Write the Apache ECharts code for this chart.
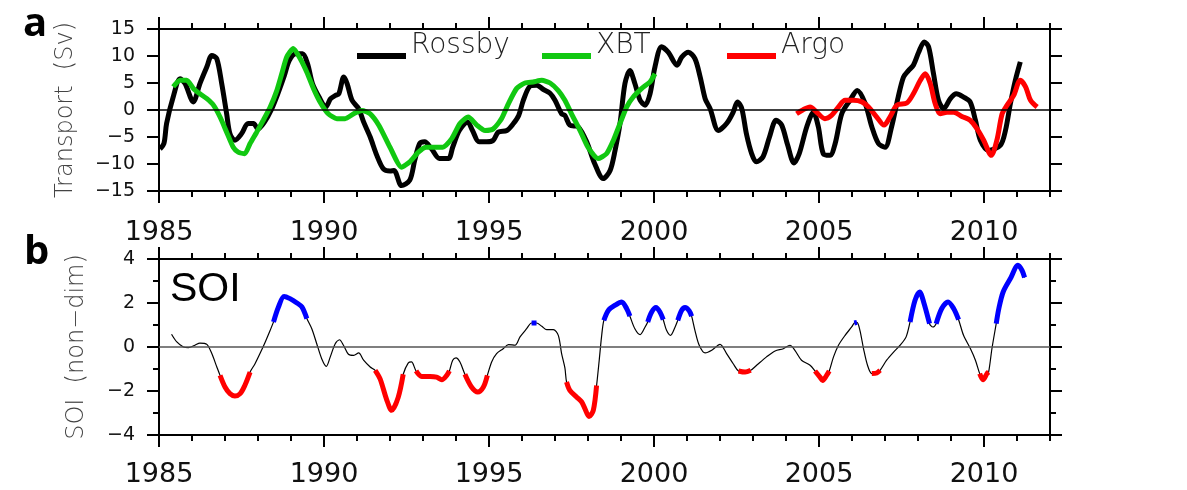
<!DOCTYPE html>
<html>
<head>
<meta charset="utf-8">
<script src="https://cdn.jsdelivr.net/npm/echarts@6/dist/echarts.min.js"></script>
<style>
html,body{margin:0;padding:0;background:#fff;}
#chart{width:1187px;height:490px;}
</style>
</head>
<body>
<div id="chart"></div>
<script>
// ---------- data (year, value) ----------
const xTickYears = [1985, 1990, 1995, 2000, 2005, 2010];
const xMin = 1985, xMax = 2012;

const rossby = [[1985.03,-7.2],[1985.15,-6.2],[1985.23,-2.5],[1985.43,2.4],[1985.64,5.8],[1985.79,4.9],[1986.04,1.5],[1986.24,4.9],[1986.45,8],[1986.6,10.1],[1986.75,9.5],[1986.9,4.9],[1987.05,-0.7],[1987.15,-4.4],[1987.3,-5.6],[1987.5,-4.4],[1987.7,-2.5],[1987.86,-2.5],[1988.0,-3.5],[1988.2,-2.2],[1988.4,0],[1988.6,3],[1988.8,6.4],[1988.95,9.2],[1989.15,10.4],[1989.35,10.4],[1989.5,8.6],[1989.65,4.9],[1989.85,2.4],[1990.05,0.55],[1990.2,2.1],[1990.35,2.7],[1990.45,3],[1990.6,6.1],[1990.7,4.9],[1990.85,1.8],[1991.05,0.25],[1991.2,-2.2],[1991.4,-5],[1991.6,-8.4],[1991.8,-10.9],[1992.0,-11.3],[1992.12,-11.2],[1992.35,-14],[1992.6,-13],[1992.75,-9.3],[1992.9,-6.2],[1993.05,-5.9],[1993.26,-7.2],[1993.5,-9],[1993.77,-9],[1993.9,-6.9],[1994.1,-3.8],[1994.35,-2.2],[1994.5,-3.8],[1994.7,-5.9],[1994.93,-5.9],[1995.13,-5.6],[1995.28,-4.1],[1995.54,-3.8],[1995.74,-2.5],[1995.9,-1],[1996.04,1.8],[1996.24,4.4],[1996.44,4.6],[1996.65,3.8],[1996.85,3.1],[1997.0,1.8],[1997.2,-0.7],[1997.3,-1],[1997.45,-2.8],[1997.7,-3.1],[1997.96,-5.9],[1998.2,-9.9],[1998.46,-12.7],[1998.67,-11.2],[1998.82,-7.5],[1998.97,-2.5],[1999.12,4.9],[1999.27,7.3],[1999.42,4.9],[1999.58,1.8],[1999.73,0.9],[1999.88,3],[2000.03,8],[2000.23,11.7],[2000.43,10.7],[2000.7,8.3],[2000.84,9.8],[2001.04,10.7],[2001.24,9.5],[2001.4,6.1],[2001.55,2.1],[2001.7,0.25],[2001.95,-3.8],[2002.2,-2.5],[2002.4,-0.4],[2002.53,1.5],[2002.66,0.25],[2002.8,-4.4],[2002.96,-8.1],[2003.1,-9.6],[2003.3,-8.7],[2003.5,-5],[2003.7,-1.9],[2003.87,-2.8],[2004.05,-6.5],[2004.24,-9.8],[2004.4,-8.1],[2004.63,-3.1],[2004.83,-0.4],[2004.98,-3.1],[2005.13,-8.1],[2005.33,-8.4],[2005.49,-6.2],[2005.69,-0.7],[2005.94,1.8],[2006.16,3.6],[2006.4,1.2],[2006.6,-3.1],[2006.8,-6.2],[2007.0,-6.9],[2007.2,-3.1],[2007.4,2.4],[2007.56,6.1],[2007.71,7.3],[2007.86,8.3],[2008.02,10.7],[2008.19,12.6],[2008.32,11.7],[2008.47,6.7],[2008.62,1.8],[2008.78,0.25],[2008.98,2.1],[2009.16,3],[2009.38,2.4],[2009.58,1.5],[2009.74,-1.9],[2009.89,-5.6],[2010.14,-7.5],[2010.5,-6.5],[2010.65,-3.8],[2010.8,1.2],[2010.95,5.5],[2011.1,8.9]];

const xbt = [[1985.43,4.3],[1985.64,5.5],[1985.84,5.5],[1986.04,4],[1986.24,3],[1986.45,2.1],[1986.65,0.9],[1986.85,-1.3],[1987.05,-4.1],[1987.25,-6.9],[1987.4,-7.8],[1987.6,-8.1],[1987.76,-6.2],[1987.96,-4.1],[1988.16,-1.9],[1988.37,0.55],[1988.57,3.6],[1988.72,6.7],[1988.87,9.8],[1989.07,11.4],[1989.28,9.5],[1989.48,7],[1989.68,4],[1989.88,1.5],[1990.13,-0.7],[1990.39,-1.6],[1990.64,-1.6],[1990.9,-0.7],[1991.15,-0.1],[1991.4,-0.7],[1991.67,-2.9],[1992.0,-6.9],[1992.35,-10.6],[1992.6,-9.6],[1992.86,-7.8],[1993.1,-6.9],[1993.6,-6.9],[1993.87,-5.3],[1994.12,-2.5],[1994.37,-1.3],[1994.63,-2.8],[1994.88,-3.8],[1995.13,-3.5],[1995.38,-1.6],[1995.59,1.2],[1995.84,4],[1996.09,5],[1996.34,5.2],[1996.6,5.5],[1996.85,5],[1997.1,3.6],[1997.3,1.8],[1997.5,-0.7],[1997.76,-3.8],[1998.0,-6.9],[1998.3,-9],[1998.56,-8.1],[1998.77,-5.6],[1998.97,-2.5],[1999.17,0.55],[1999.37,2.4],[1999.63,4],[1999.88,5.2],[2000.03,6.7]];

const argo = [[2004.32,-0.7],[2004.52,0.06],[2004.73,0.55],[2004.93,-0.4],[2005.18,-1.6],[2005.38,-1],[2005.59,0.55],[2005.79,1.8],[2006.04,1.8],[2006.3,1.5],[2006.5,0.55],[2006.75,-1.3],[2006.97,-2.8],[2007.15,-1.3],[2007.36,0.9],[2007.66,1.3],[2007.86,3],[2008.07,5.5],[2008.22,6.7],[2008.37,4.9],[2008.52,1.2],[2008.67,-0.7],[2008.88,-0.4],[2009.08,-0.4],[2009.33,-1.2],[2009.58,-1.9],[2009.79,-3.5],[2009.99,-5.6],[2010.22,-8.4],[2010.39,-5.6],[2010.55,-0.7],[2010.7,0.9],[2010.9,2.7],[2011.1,5.5],[2011.26,4.3],[2011.41,1.8],[2011.61,0.55]];

const soi = [[1985.38,0.58],[1985.54,0.23],[1985.74,0],[1985.89,-0.03],[1986.09,0.08],[1986.24,0.18],[1986.45,0.12],[1986.6,-0.3],[1986.75,-0.9],[1986.85,-1.29],[1987.0,-1.82],[1987.15,-2.12],[1987.3,-2.23],[1987.46,-2.12],[1987.6,-1.75],[1987.76,-1.14],[1987.91,-0.76],[1988.06,-0.3],[1988.22,0.23],[1988.37,0.76],[1988.47,1.14],[1988.62,1.82],[1988.79,2.3],[1988.97,2.2],[1989.18,2.0],[1989.33,1.82],[1989.48,1.29],[1989.63,0.83],[1989.78,0.15],[1989.93,-0.53],[1990.07,-0.88],[1990.19,-0.45],[1990.34,0.15],[1990.47,0.33],[1990.59,0.08],[1990.74,-0.33],[1990.9,-0.38],[1991.05,-0.27],[1991.2,-0.6],[1991.4,-0.91],[1991.55,-1.06],[1991.7,-1.45],[1991.9,-2.4],[1992.05,-2.88],[1992.25,-2.28],[1992.4,-1.24],[1992.55,-0.73],[1992.65,-0.68],[1992.79,-1.09],[1992.96,-1.34],[1993.21,-1.34],[1993.41,-1.37],[1993.57,-1.49],[1993.72,-1.29],[1993.8,-1.09],[1993.9,-0.6],[1994.0,-0.49],[1994.12,-0.68],[1994.27,-1.24],[1994.47,-1.82],[1994.66,-2.05],[1994.83,-1.82],[1994.95,-1.29],[1995.08,-0.68],[1995.23,-0.3],[1995.43,-0.08],[1995.59,0.11],[1995.79,0.08],[1995.94,0.46],[1996.14,0.83],[1996.29,1.09],[1996.44,1.09],[1996.6,0.94],[1996.75,0.79],[1996.95,0.79],[1997.1,0.53],[1997.2,-0.3],[1997.3,-0.95],[1997.35,-1.59],[1997.45,-1.97],[1997.66,-2.28],[1997.81,-2.5],[1997.91,-2.81],[1998.03,-3.16],[1998.16,-2.88],[1998.26,-1.75],[1998.34,-0.6],[1998.41,0.46],[1998.48,1.21],[1998.62,1.67],[1998.82,1.9],[1999.02,2.05],[1999.17,1.75],[1999.27,1.4],[1999.42,0.83],[1999.58,0.56],[1999.73,0.91],[1999.81,1.14],[1999.93,1.59],[2000.06,1.79],[2000.18,1.59],[2000.28,1.24],[2000.38,0.76],[2000.5,0.53],[2000.64,0.91],[2000.72,1.21],[2000.84,1.67],[2000.94,1.79],[2001.07,1.64],[2001.14,1.4],[2001.24,0.76],[2001.37,0.08],[2001.55,-0.27],[2001.75,-0.15],[2002.0,0.12],[2002.2,-0.3],[2002.4,-0.76],[2002.56,-1.09],[2002.76,-1.14],[2002.93,-1.06],[2003.11,-0.83],[2003.41,-0.45],[2003.67,-0.18],[2003.92,-0.08],[2004.12,0.08],[2004.27,-0.15],[2004.47,-0.6],[2004.73,-0.83],[2004.88,-1.09],[2005.03,-1.37],[2005.11,-1.52],[2005.23,-1.29],[2005.31,-1.09],[2005.44,-0.45],[2005.59,0.08],[2005.79,0.53],[2005.99,0.91],[2006.07,1.09],[2006.15,1.12],[2006.24,0.76],[2006.35,-0.08],[2006.47,-0.83],[2006.6,-1.21],[2006.75,-1.18],[2006.85,-1.06],[2007.05,-0.6],[2007.26,-0.23],[2007.46,0.08],[2007.64,0.46],[2007.76,1.14],[2007.91,2.12],[2008.05,2.5],[2008.17,2.05],[2008.35,1.06],[2008.45,0.91],[2008.55,1.06],[2008.72,1.75],[2008.91,2.05],[2009.08,1.75],[2009.23,1.24],[2009.38,0.53],[2009.59,-0.08],[2009.74,-0.6],[2009.87,-1.21],[2009.97,-1.49],[2010.09,-1.21],[2010.14,-1.14],[2010.24,-0.08],[2010.37,1.06],[2010.45,1.75],[2010.58,2.5],[2010.8,3.11],[2011.03,3.72],[2011.15,3.49],[2011.23,3.16]];

// SOI is drawn thick where |SOI| exceeds this value
const SOI_THRESHOLD = 1.0;
const soiPositive = soi.map(p => p[1] >= SOI_THRESHOLD ? p : [p[0], '-']);
const soiNegative = soi.map(p => p[1] <= -SOI_THRESHOLD ? p : [p[0], '-']);

// ---------- styling ----------
const FONT = 'DejaVu Sans';
const minusFmt = v => (v < 0 ? '\u2212' + Math.abs(v) : String(v));
const yearFmt = v => String(Math.round(v));

function xAxes(grid, position, withLine, major, labels, labelMargin) {
  return {
    gridIndex: grid, type: 'value', min: xMin, max: xMax, interval: 1,
    position: position,
    axisLine: { show: withLine, onZero: false, lineStyle: { color: '#000', width: 2 } },
    axisTick: major
      ? { show: true, inside: false, length: 12, customValues: xTickYears, lineStyle: { color: '#000', width: 2 } }
      : { show: true, inside: false, length: 6, lineStyle: { color: '#000', width: 2 } },
    axisLabel: labels
      ? { show: true, customValues: xTickYears, formatter: yearFmt, fontFamily: FONT, fontSize: 27, color: '#111', margin: labelMargin }
      : { show: false },
    splitLine: { show: false }
  };
}

function yAxis(grid, position, min, max, interval, minorSplit, labels, name, nameGap) {
  const ax = {
    gridIndex: grid, type: 'value', min: min, max: max, interval: interval,
    position: position,
    axisLine: { show: true, onZero: false, lineStyle: { color: '#000', width: 2 } },
    axisTick: { show: true, inside: false, length: 12, lineStyle: { color: '#000', width: 2 } },
    minorTick: { show: minorSplit > 0, splitNumber: minorSplit || 5, length: 6, lineStyle: { color: '#000', width: 2 } },
    axisLabel: labels
      ? { show: true, formatter: minusFmt, fontFamily: FONT, fontSize: 19, color: '#111', margin: 24 }
      : { show: false },
    splitLine: { show: false }
  };
  if (name) {
    ax.name = name;
    ax.nameLocation = 'middle';
    ax.nameGap = nameGap;
    ax.nameTextStyle = { fontFamily: FONT, fontSize: 24, color: '#444', fontWeight: 300 };
  }
  return ax;
}

const chart = echarts.init(document.getElementById('chart'), null, { renderer: 'canvas' });

// legend icon: a short thick line sitting low in the item box, so the text sits above it
const legendIcon = 'path://M0,0L49,0L49,0.02L0,0.02Z M0,20L49,20L49,26L0,26Z';
const legendBase = {
  orient: 'horizontal', top: 32, padding: 0, itemWidth: 49, itemHeight: 26,
  icon: legendIcon, selectedMode: false,
  textStyle: { fontFamily: FONT, fontSize: 28, color: '#222', fontWeight: 300 }
};

chart.setOption({
  animation: false,
  backgroundColor: '#fff',
  title: [
    { text: 'a', left: 23, top: 5, padding: 0, textStyle: { fontFamily: 'Open Sans', fontWeight: 'bold', fontSize: 40, color: '#000' } },
    { text: 'b', left: 24, top: 233, padding: 0, textStyle: { fontFamily: 'Open Sans', fontWeight: 'bold', fontSize: 40, color: '#000' } },
    { text: 'SOI', left: 170, top: 269, padding: 0, textStyle: { fontFamily: 'Liberation Sans', fontWeight: 'normal', fontSize: 41, color: '#000' } }
  ],
  legend: [
    Object.assign({}, legendBase, { left: 357, data: ['Rossby'] }),
    Object.assign({}, legendBase, { left: 542, data: ['XBT'] }),
    Object.assign({}, legendBase, { left: 727, data: ['Argo'] })
  ],
  grid: [
    { left: 159, right: 137, top: 29, height: 162 },
    { left: 159, right: 137, top: 259, height: 176 }
  ],
  xAxis: [
    xAxes(0, 'bottom', true, false, false),
    xAxes(0, 'bottom', false, true, true, 28),
    xAxes(0, 'top', true, false, false),
    xAxes(0, 'top', false, true, false),
    xAxes(1, 'bottom', true, false, false),
    xAxes(1, 'bottom', false, true, true, 26),
    xAxes(1, 'top', true, false, false),
    xAxes(1, 'top', false, true, false)
  ],
  yAxis: [
    yAxis(0, 'left', -15, 15, 5, 0, true, 'Transport  (Sv)', 81),
    yAxis(0, 'right', -15, 15, 5, 0, false),
    yAxis(1, 'left', -4, 4, 2, 2, true, 'SOI  (non\u2212dim)', 70),
    yAxis(1, 'right', -4, 4, 2, 2, false)
  ],
  series: [
    {
      name: 'Rossby', type: 'line', xAxisIndex: 0, yAxisIndex: 0, data: rossby,
      smooth: 0.3, showSymbol: false, symbol: 'none',
      lineStyle: { color: '#000', width: 5 }, itemStyle: { color: '#000' },
      markLine: {
        silent: true, symbol: ['none', 'none'], label: { show: false },
        lineStyle: { color: '#000', width: 1.5, type: 'solid' },
        data: [{ yAxis: 0 }]
      }
    },
    {
      name: 'XBT', type: 'line', xAxisIndex: 0, yAxisIndex: 0, data: xbt,
      smooth: 0.2, showSymbol: false, symbol: 'none',
      lineStyle: { color: '#11c811', width: 5 }, itemStyle: { color: '#11c811' }
    },
    {
      name: 'Argo', type: 'line', xAxisIndex: 0, yAxisIndex: 0, data: argo,
      smooth: 0.3, showSymbol: false, symbol: 'none',
      lineStyle: { color: '#ff0000', width: 5 }, itemStyle: { color: '#ff0000' }
    },
    {
      name: 'SOI', type: 'line', xAxisIndex: 4, yAxisIndex: 2, data: soi,
      smooth: 0.3, showSymbol: false, symbol: 'none',
      lineStyle: { color: '#000', width: 1.2 }, itemStyle: { color: '#000' },
      markLine: {
        silent: true, symbol: ['none', 'none'], label: { show: false },
        lineStyle: { color: '#555', width: 1.5, type: 'solid' },
        data: [{ yAxis: 0 }]
      }
    },
    {
      name: 'SOI positive', type: 'line', xAxisIndex: 4, yAxisIndex: 2, data: soiPositive,
      smooth: 0.3, showSymbol: false, symbol: 'none', connectNulls: false,
      lineStyle: { color: '#0000ff', width: 5, cap: 'butt' }, itemStyle: { color: '#0000ff' }
    },
    {
      name: 'SOI negative', type: 'line', xAxisIndex: 4, yAxisIndex: 2, data: soiNegative,
      smooth: 0.3, showSymbol: false, symbol: 'none', connectNulls: false,
      lineStyle: { color: '#ff0000', width: 5, cap: 'butt' }, itemStyle: { color: '#ff0000' }
    }
  ]
});
</script>
</body>
</html>
